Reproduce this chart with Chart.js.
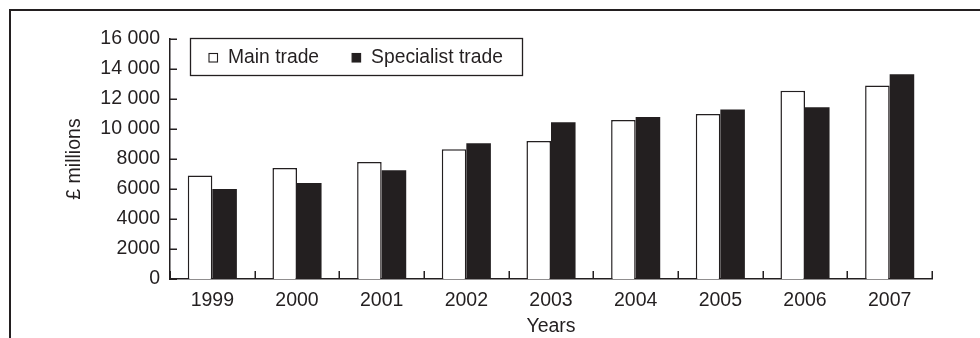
<!DOCTYPE html>
<html>
<head>
<meta charset="utf-8">
<script src="https://cdn.jsdelivr.net/npm/chart.js@4/dist/chart.umd.min.js"></script>
<style>
  html, body { margin: 0; padding: 0; background: #ffffff; }
  #wrap { width: 980px; height: 338px; position: relative; }
</style>
</head>
<body>
<div id="wrap"><canvas id="c" width="980" height="338"></canvas></div>
<script>
const categories = ['1999', '2000', '2001', '2002', '2003', '2004', '2005', '2006', '2007'];
const mainTrade = [6900, 7400, 7800, 8650, 9200, 10600, 11000, 12550, 12900];
const specialistTrade = [6000, 6400, 7250, 9050, 10450, 10800, 11300, 11450, 13650];
const seriesNames = ['Main trade', 'Specialist trade'];
const yTickLabels = ['0', '2000', '4000', '6000', '8000', '10 000', '12 000', '14 000', '16 000'];
const xTitle = 'Years';
const yTitle = '£ millions';

const INK = '#231f20';
const FONT = "'Liberation Sans', Arial, Helvetica, sans-serif";

const framePlugin = {
  id: 'frame',
  beforeDraw(chart) {
    const ctx = chart.ctx;
    ctx.save();
    ctx.strokeStyle = INK;
    ctx.lineWidth = 2;
    ctx.beginPath();
    ctx.moveTo(10, chart.height);
    ctx.lineTo(10, 10);
    ctx.lineTo(chart.width, 10);
    ctx.stroke();
    ctx.restore();
  }
};

const innerTicksPlugin = {
  id: 'innerTicks',
  afterDraw(chart) {
    const ctx = chart.ctx;
    const xs = chart.scales.x, ys = chart.scales.y;
    ctx.save();
    ctx.strokeStyle = INK;
    ctx.lineWidth = 1.5;
    ctx.beginPath();
    for (let i = 0; i <= categories.length; i++) {
      const px = Math.round(xs.getPixelForValue(i - 0.5)) + 0.25;
      ctx.moveTo(px, ys.bottom);
      ctx.lineTo(px, ys.bottom - 8);
    }
    ys.ticks.forEach(t => {
      const py = Math.round(ys.getPixelForValue(t.value)) + 0.25;
      ctx.moveTo(xs.left, py);
      ctx.lineTo(xs.left + 7, py);
    });
    ctx.stroke();
    ctx.restore();
  }
};

const boxLegendPlugin = {
  id: 'boxLegend',
  afterDraw(chart) {
    const ctx = chart.ctx;
    const a = chart.chartArea;
    const x0 = a.left + 20.5, y0 = Math.round(a.top) - 0.5;
    const w = 332, h = 37;
    ctx.save();
    ctx.fillStyle = '#ffffff';
    ctx.fillRect(x0, y0, w, h);
    ctx.strokeStyle = INK;
    ctx.lineWidth = 1.3;
    ctx.strokeRect(x0, y0, w, h);
    ctx.font = '19.3px ' + FONT;
    ctx.textBaseline = 'middle';
    ctx.fillStyle = INK;
    const cy = y0 + h / 2 + 0.5;
    let x = x0 + 18.5;
    chart.data.datasets.forEach((ds, i) => {
      ctx.lineWidth = 1.1;
      ctx.fillStyle = ds.backgroundColor;
      ctx.fillRect(x, cy - 4, 8.5, 8.5);
      ctx.strokeStyle = INK;
      ctx.strokeRect(x, cy - 4, 8.5, 8.5);
      ctx.fillStyle = INK;
      ctx.fillText(ds.label, x + 19, cy);
      x += 19 + ctx.measureText(ds.label).width + 33;
    });
    ctx.restore();
  }
};

new Chart(document.getElementById('c'), {
  type: 'bar',
  data: {
    labels: categories,
    datasets: [
      { label: seriesNames[0], data: mainTrade, backgroundColor: '#ffffff', borderColor: INK, borderWidth: 1.5 },
      { label: seriesNames[1], data: specialistTrade, backgroundColor: INK, borderColor: INK, borderWidth: 0 }
    ]
  },
  options: {
    responsive: false,
    animation: false,
    devicePixelRatio: 1,
    layout: { padding: { left: 10, top: 39, right: 48, bottom: 0 } },
    datasets: { bar: { barPercentage: 1, categoryPercentage: 0.58 } },
    plugins: { legend: { display: false }, tooltip: { enabled: false } },
    scales: {
      x: {
        grid: { display: false, drawTicks: false },
        border: { display: true, color: INK, width: 1.5 },
        ticks: { color: INK, font: { family: FONT, size: 19.5 }, padding: 10, maxRotation: 0, autoSkip: false },
        title: { display: true, text: xTitle, color: INK, font: { family: FONT, size: 19.5 }, padding: { top: 0, bottom: 0 } },
        afterFit(s) { s.height = 59; }
      },
      y: {
        min: 0, max: 16000,
        grid: { display: false, drawTicks: false },
        border: { display: true, color: INK, width: 1.5 },
        ticks: {
          stepSize: 2000, color: INK, font: { family: FONT, size: 19.5 }, padding: 10,
          callback: (v, i) => yTickLabels[i]
        },
        title: { display: true, text: yTitle, color: INK, font: { family: FONT, size: 19.5 }, padding: { top: 53, bottom: 0 } },
        afterFit(s) { s.width = 160; }
      }
    }
  },
  plugins: [framePlugin, innerTicksPlugin, boxLegendPlugin]
});
</script>
</body>
</html>
